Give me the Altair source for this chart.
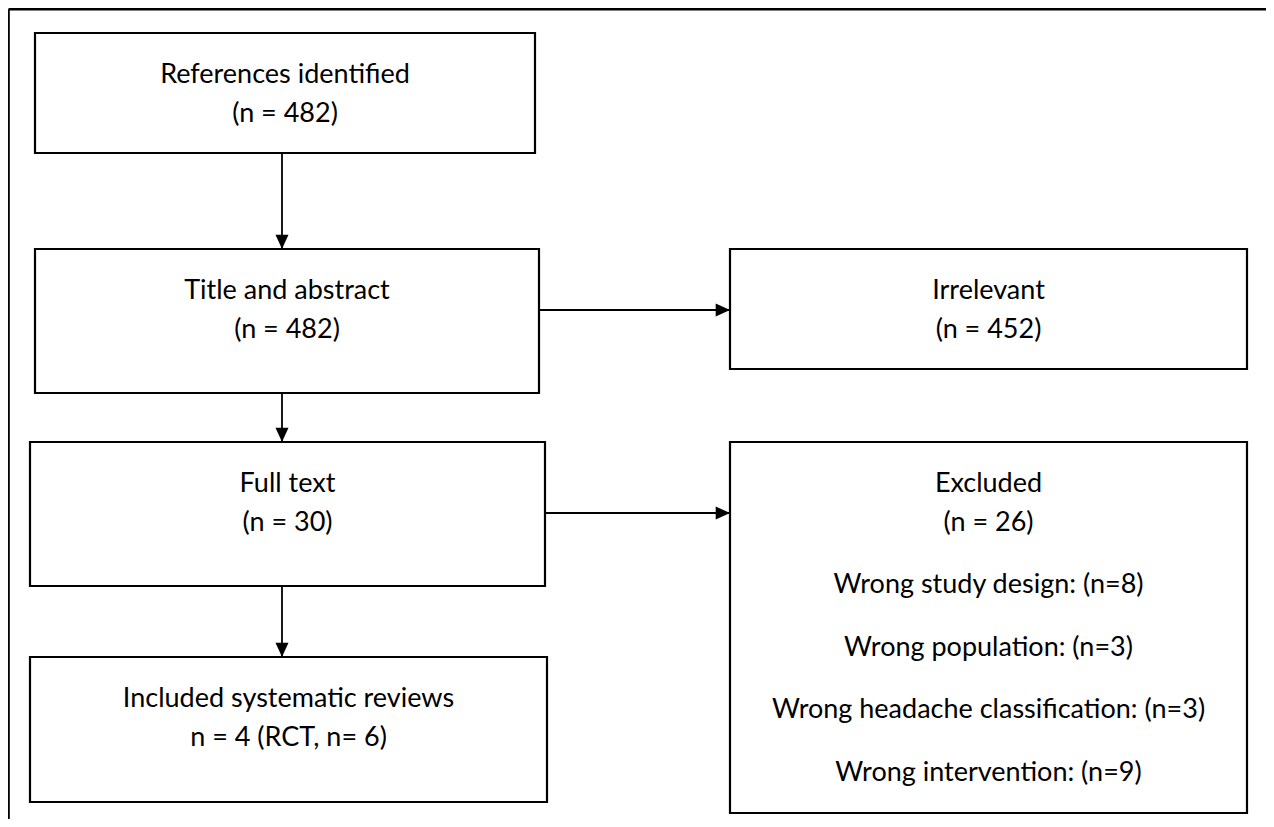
import altair as alt
import pandas as pd

# ---- flowchart content ----
box_ids = ["identified", "screened", "irrelevant", "fulltext", "excluded", "included"]
box_x0 = [35, 35, 730, 30, 730, 30]
box_x1 = [535, 539, 1247, 545, 1247, 547]
box_y0 = [33, 249, 249, 442, 442, 657]
box_y1 = [153, 393, 369, 586, 813, 802]
box_lines = [
    ["References identified", "(n = 482)"],
    ["Title and abstract", "(n =  482)"],
    ["Irrelevant", "(n = 452)"],
    ["Full text", "(n = 30)"],
    ["Excluded", "(n = 26)"],
    ["Included systematic reviews", "n = 4 (RCT, n= 6)"],
]
excluded_reasons = [
    "Wrong study design: (n=8)",
    "Wrong population: (n=3)",
    "Wrong headache classification: (n=3)",
    "Wrong intervention: (n=9)",
]
# arrows: (from box, to box, direction)
arrow_from = ["identified", "screened", "screened", "fulltext", "fulltext"]
arrow_to = ["screened", "irrelevant", "fulltext", "excluded", "included"]
arrow_dir = ["down", "right", "down", "right", "down"]
arrow_level = [None, 310, None, 513, None]
arrow_col = 282

FONT = "Lato"
FS = 27

boxes = pd.DataFrame({"id": box_ids, "x0": box_x0, "x1": box_x1, "y0": box_y0, "y1": box_y1})
bx = {r.id: r for r in boxes.itertuples()}

texts = []
for bid, lines in zip(box_ids, box_lines):
    b = bx[bid]
    cx = (b.x0 + b.x1) / 2
    for i, t in enumerate(lines):
        texts.append({"x": cx, "y": b.y0 + 50 + 39 * i, "t": t})
b = bx["excluded"]
for i, t in enumerate(excluded_reasons):
    texts.append({"x": (b.x0 + b.x1) / 2, "y": b.y0 + 151 + 62.7 * i, "t": t})
texts = pd.DataFrame(texts)

segs, heads_d, heads_r = [], [], []
for f, t, d, lv in zip(arrow_from, arrow_to, arrow_dir, arrow_level):
    a, c = bx[f], bx[t]
    if d == "down":
        segs.append({"x": arrow_col, "y": a.y1, "x2": arrow_col, "y2": c.y0})
        heads_d.append({"x": arrow_col, "y": c.y0})
    else:
        segs.append({"x": a.x1, "y": lv, "x2": c.x0, "y2": lv})
        heads_r.append({"x": c.x0, "y": lv})
segs = pd.DataFrame(segs)

frame = pd.DataFrame({"x": [8.6, 8.6], "y": [9.2, 9.2], "x2": [1274, 8.6], "y2": [9.2, 827]})

X = alt.Scale(domain=[8, 1266], range=[0, 1258], nice=False, zero=False)
Y = alt.Scale(domain=[8, 819], range=[0, 811], nice=False, zero=False)

def xe(f):
    return alt.X(f, type="quantitative", scale=X, axis=None)

def ye(f):
    return alt.Y(f, type="quantitative", scale=Y, axis=None)

rects = alt.Chart(boxes).mark_rect(fill="white", stroke="black", strokeWidth=2.2).encode(
    x=xe("x0"), x2="x1", y=ye("y0"), y2="y1"
)
frame_l = alt.Chart(frame).mark_rule(color="black", strokeWidth=2.4).encode(
    x=xe("x"), x2="x2", y=ye("y"), y2="y2"
)
lines_l = alt.Chart(segs).mark_rule(color="black", strokeWidth=1.8).encode(
    x=xe("x"), x2="x2", y=ye("y"), y2="y2"
)
hd = alt.Chart(pd.DataFrame(heads_d)).mark_point(
    shape="M-1,-2.2L1,-2.2L0,0Z", filled=True, fill="black", stroke=None, opacity=1, size=169
).encode(x=xe("x"), y=ye("y"))
hr = alt.Chart(pd.DataFrame(heads_r)).mark_point(
    shape="M-2.2,-1L-2.2,1L0,0Z", filled=True, fill="black", stroke=None, opacity=1, size=169
).encode(x=xe("x"), y=ye("y"))
txt = alt.Chart(texts).mark_text(
    font=FONT, fontSize=FS, color="black", align="center", baseline="alphabetic"
).encode(x=xe("x"), y=ye("y"), text="t:N")

chart = (
    alt.layer(frame_l, rects, lines_l, hd, hr, txt)
    .properties(width=1258, height=811, padding=0, autosize=alt.AutoSizeParams(type="none"))
    .configure_view(stroke=None)
    .configure(background="white")
)
chart.save("out.html", embed_options={"renderer": "svg", "actions": False})
